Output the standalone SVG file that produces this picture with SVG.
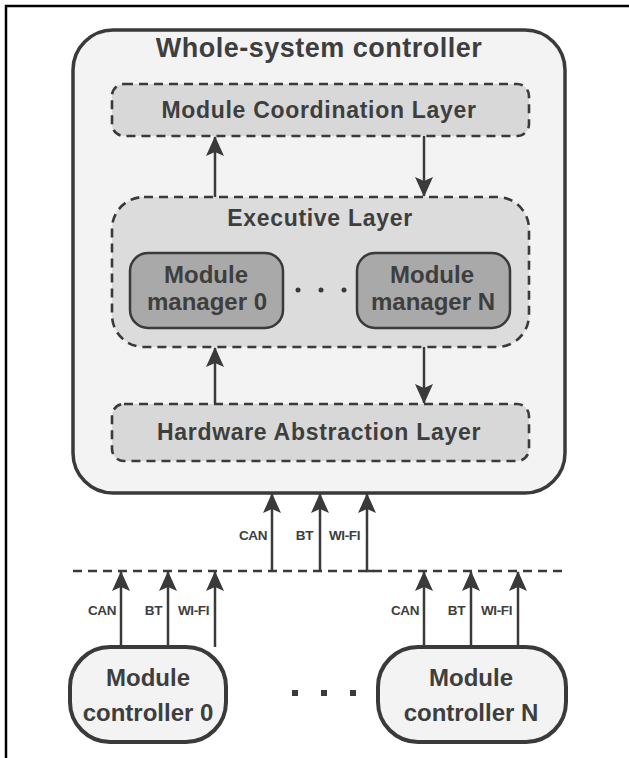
<svg xmlns="http://www.w3.org/2000/svg" width="629" height="758" viewBox="0 0 629 758">
<style>
text{font-family:"Liberation Sans",Arial,sans-serif;font-weight:bold;fill:#3e3e3e;text-anchor:middle}
.solid{stroke:#3a3a3a;stroke-width:3.5}
.dash{stroke:#3a3a3a;stroke-width:2.6;stroke-dasharray:9 6}
.conn{stroke:#3a3a3a;stroke-width:2.5;fill:none}
.lbl{font-size:13.5px;text-anchor:end;letter-spacing:-0.4px}
.layer{font-size:23px;letter-spacing:0.7px}
.big{font-size:24px}
</style>
<defs>
<marker id="ah" viewBox="0 0 20 18" refX="19" refY="9" markerWidth="20" markerHeight="18" markerUnits="userSpaceOnUse" orient="auto">
<path d="M0,0 L20,9 L0,18 L4,9 z" fill="#3a3a3a"/>
</marker>
</defs>
<rect width="629" height="758" fill="#ffffff"/>
<path d="M6,758 V6 H629" fill="none" stroke="#000" stroke-width="2.5"/>

<g id="whole-system-controller">
<rect x="73" y="30" width="492" height="463" rx="40" fill="#f3f3f3" class="solid"/>
<text x="319" y="57" font-size="27" letter-spacing="0.5">Whole-system controller</text>
</g>

<g id="module-coordination-layer">
<rect x="112" y="84" width="417" height="52" rx="12" fill="#d8d8d8" class="dash"/>
<text x="319" y="118" class="layer">Module Coordination Layer</text>
</g>

<g id="executive-layer">
<rect x="112" y="197" width="417" height="150" rx="32" fill="#dcdcdc" class="dash"/>
<text x="320" y="226" class="layer">Executive Layer</text>
<circle cx="298" cy="290" r="2.5" fill="#3a3a3a"/>
<circle cx="321" cy="290" r="2.5" fill="#3a3a3a"/>
<circle cx="344" cy="290" r="2.5" fill="#3a3a3a"/>
</g>

<g id="module-manager-0">
<rect x="130" y="253" width="153" height="75" rx="18" fill="#a9a9a9" stroke="#3a3a3a" stroke-width="2.5"/>
<text x="206" y="283" class="big">Module</text>
<text x="207" y="310" class="big">manager 0</text>
</g>

<g id="module-manager-n">
<rect x="357" y="253" width="153" height="75" rx="18" fill="#a9a9a9" stroke="#3a3a3a" stroke-width="2.5"/>
<text x="432" y="283" class="big">Module</text>
<text x="433" y="310" class="big">manager N</text>
</g>

<g id="hardware-abstraction-layer">
<rect x="112" y="404" width="417" height="57" rx="12" fill="#d8d8d8" class="dash"/>
<text x="319" y="440" class="layer">Hardware Abstraction Layer</text>
</g>

<g id="module-controller-0">
<rect x="70" y="647" width="156" height="95" rx="40" fill="#f3f3f3" stroke="#3a3a3a" stroke-width="4"/>
<text x="148" y="686" class="big">Module</text>
<text x="148" y="721" class="big">controller 0</text>
</g>

<g id="module-controller-n">
<rect x="378" y="647" width="188" height="95" rx="40" fill="#f3f3f3" stroke="#3a3a3a" stroke-width="4"/>
<text x="471" y="686" class="big">Module</text>
<text x="471" y="721" class="big">controller N</text>
</g>

<g id="bottom-dots">
<rect x="292" y="690" width="6" height="6" fill="#3a3a3a"/>
<rect x="321" y="690" width="6" height="6" fill="#3a3a3a"/>
<rect x="350" y="690" width="6" height="6" fill="#3a3a3a"/>
</g>

<g id="connectors">
<line x1="215" y1="197" x2="215" y2="137" class="conn" marker-end="url(#ah)"/>
<line x1="424" y1="136" x2="424" y2="196" class="conn" marker-end="url(#ah)"/>
<line x1="215" y1="404" x2="215" y2="348" class="conn" marker-end="url(#ah)"/>
<line x1="424" y1="347" x2="424" y2="403" class="conn" marker-end="url(#ah)"/>
<line x1="73" y1="571" x2="565" y2="571" class="dash"/>
<line x1="272" y1="571" x2="272" y2="494" class="conn" marker-end="url(#ah)"/>
<line x1="320" y1="571" x2="320" y2="494" class="conn" marker-end="url(#ah)"/>
<path d="M374,571 H367 V494" class="conn" marker-end="url(#ah)"/>
<line x1="121" y1="647" x2="121" y2="572" class="conn" marker-end="url(#ah)"/>
<line x1="168" y1="647" x2="168" y2="572" class="conn" marker-end="url(#ah)"/>
<line x1="215" y1="647" x2="215" y2="572" class="conn" marker-end="url(#ah)"/>
<line x1="424" y1="647" x2="424" y2="572" class="conn" marker-end="url(#ah)"/>
<line x1="471" y1="647" x2="471" y2="572" class="conn" marker-end="url(#ah)"/>
<line x1="518" y1="647" x2="518" y2="572" class="conn" marker-end="url(#ah)"/>
</g>

<g id="connector-labels">
<text x="267" y="540" class="lbl">CAN</text>
<text x="313" y="540" class="lbl">BT</text>
<text x="360" y="540" class="lbl">WI-FI</text>
<text x="116" y="615" class="lbl">CAN</text>
<text x="162" y="615" class="lbl">BT</text>
<text x="209" y="615" class="lbl">WI-FI</text>
<text x="419" y="615" class="lbl">CAN</text>
<text x="465" y="615" class="lbl">BT</text>
<text x="512" y="615" class="lbl">WI-FI</text>
</g>
</svg>
